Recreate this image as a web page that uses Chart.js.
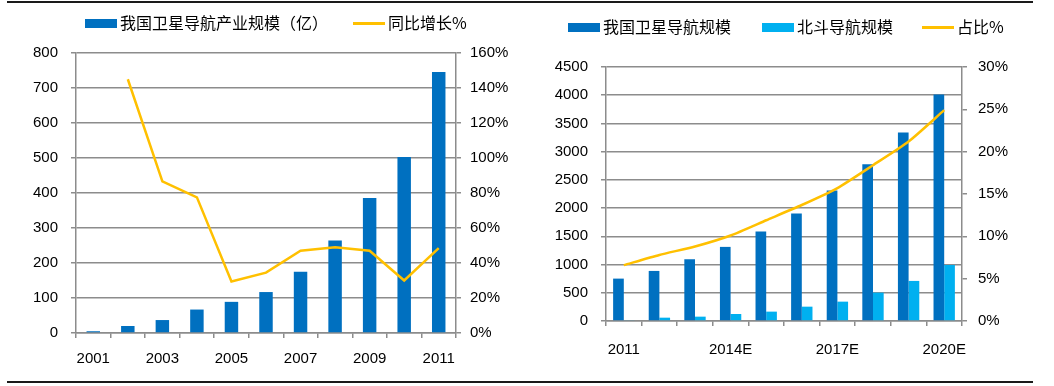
<!DOCTYPE html>
<html>
<head>
<meta charset="utf-8">
<script src="https://cdn.jsdelivr.net/npm/chart.js@4"></script>
<style>
  body { margin: 0; background: #fff; }
  #wrap { position: relative; width: 1054px; height: 386px; overflow: hidden; }
  .rule { position: absolute; left: 7px; width: 1026px; height: 2px; background: #1a1a1a; }
  .box { position: absolute; width: 520px; height: 386px; }
  .leg { position: absolute; font-family: "Noto Sans CJK SC", sans-serif; font-size: 16px; color: #000; line-height: 20px; white-space: nowrap; }
  .sw { position: absolute; }
</style>
</head>
<body>
<div id="wrap">
  <div class="rule" style="top:1px"></div>
  <div class="rule" style="top:381px"></div>
  <div class="box" style="left:0;top:0;width:520px"><canvas id="c1" width="520" height="386"></canvas></div>
  <div class="box" style="left:520px;top:0;width:534px"><canvas id="c2" width="534" height="386"></canvas></div>
</div>
<script>
// left chart: 2001-2011
const years1 = ["2001", "2002", "2003", "2004", "2005", "2006", "2007", "2008", "2009", "2010", "2011"];
const scale1 = [5, 20, 37, 67, 89, 117, 175, 264, 386, 503, 746];
const growth1 = [null, 145, 86.6, 77.5, 29.4, 34.5, 47, 49, 47, 30, 48.5];
const name1a = "我国卫星导航产业规模（亿）";
const name1b = "同比增长%";

// right chart: 2011-2020E
const years2 = ["2011", "2012E", "2013E", "2014E", "2015E", "2016E", "2017E", "2018E", "2019E", "2020E"];
const gnss2 = [751, 887, 1094, 1313, 1585, 1904, 2312, 2779, 3341, 4015];
const beidou2 = [15, 59, 77, 124, 166, 254, 343, 503, 710, 993];
const share2 = [6.6, 7.8, 8.8, 10.1, 11.9, 13.7, 15.7, 18.4, 21.2, 24.9];
const name2a = "我国卫星导航规模";
const name2b = "北斗导航规模";
const name2c = "占比%";

const DARK = "#0070C0", LIGHT = "#00B0F0", GOLD = "#FFC000", GRID = "#8c8c8c";
const tickFont = { family: "'Liberation Sans', Arial, sans-serif", size: 15 };

// html legend
function legend(parent, items) {
  items.forEach(it => {
    const sw = document.createElement("div");
    sw.className = "sw";
    sw.style.left = it.x + "px";
    sw.style.width = "32px";
    if (it.line) {
      sw.style.top = (it.y - 1.5) + "px";
      sw.style.height = "3px";
    } else {
      sw.style.top = (it.y - 4.5) + "px";
      sw.style.height = "9px";
    }
    sw.style.background = it.color;
    parent.appendChild(sw);
    const t = document.createElement("div");
    t.className = "leg";
    t.style.left = (it.x + 35) + "px";
    t.style.top = (it.y - 11) + "px";
    t.textContent = it.text;
    parent.appendChild(t);
  });
}
const wrap = document.getElementById("wrap");
legend(wrap, [
  { x: 85, y: 23, color: DARK, text: name1a },
  { x: 353, y: 23, color: GOLD, text: name1b, line: true }
]);
legend(wrap, [
  { x: 568, y: 27, color: DARK, text: name2a },
  { x: 762, y: 27, color: LIGHT, text: name2b },
  { x: 922, y: 27, color: GOLD, text: name2c, line: true }
]);

function fixW(w) { return s => { s.width = w; }; }
function fixH(h) { return s => { s.height = h; }; }

function yAxis(pos, min, max, step, w, pad, fmt, grid) {
  return {
    position: pos,
    min: min, max: max,
    afterFit: fixW(w),
    ticks: { stepSize: step, padding: pad, color: "#000", font: tickFont, callback: fmt },
    border: { display: true, color: GRID, width: 1.5 },
    grid: { display: true, drawOnChartArea: grid, drawTicks: true, tickLength: 5, color: GRID, lineWidth: 1.5 }
  };
}

function xAxis(h, pad, every) {
  return {
    afterFit: fixH(h),
    ticks: {
      autoSkip: false, maxRotation: 0, padding: pad, color: "#000", font: tickFont,
      callback: function (v, i) { return i % every === 0 ? this.getLabelForValue(v) : ""; }
    },
    border: { display: true, color: GRID, width: 1.5 },
    grid: { offset: true, drawOnChartArea: false, drawTicks: true, tickLength: 5, color: GRID, lineWidth: 1.5 }
  };
}

new Chart(document.getElementById("c1"), {
  data: {
    labels: years1,
    datasets: [
      { type: "line", label: name1b, data: growth1, yAxisID: "y1", borderColor: GOLD, borderWidth: 2.5,
        pointRadius: 0, tension: 0, order: 0 },
      { type: "bar", label: name1a, data: scale1, yAxisID: "y", backgroundColor: DARK,
        barPercentage: 0.39, categoryPercentage: 1, order: 1 }
    ]
  },
  options: {
    responsive: false, animation: false,
    layout: { padding: { top: 53, bottom: 0, left: 0, right: 0 } },
    plugins: { legend: { display: false }, tooltip: { enabled: false } },
    scales: {
      x: xAxis(53, 12, 2),
      y: yAxis("left", 0, 800, 100, 76, 13, v => v, true),
      y1: yAxis("right", 0, 160, 20, 64, 9, v => v + "%", false)
    }
  }
});

new Chart(document.getElementById("c2"), {
  data: {
    labels: years2,
    datasets: [
      { type: "line", label: name2c, data: share2, yAxisID: "y1", borderColor: GOLD, borderWidth: 2.5,
        pointRadius: 0, tension: 0.2, order: 0 },
      { type: "bar", label: name2a, data: gnss2, yAxisID: "y", backgroundColor: DARK,
        barPercentage: 1, categoryPercentage: 0.6, order: 1 },
      { type: "bar", label: name2b, data: beidou2, yAxisID: "y", backgroundColor: LIGHT,
        barPercentage: 1, categoryPercentage: 0.6, order: 2 }
    ]
  },
  options: {
    responsive: false, animation: false,
    layout: { padding: { top: 67, bottom: 0, left: 0, right: 0 } },
    plugins: { legend: { display: false }, tooltip: { enabled: false } },
    scales: {
      x: xAxis(65, 15, 3),
      y: yAxis("left", 0, 4500, 500, 86, 13, v => v, true),
      y1: yAxis("right", 0, 30, 5, 92, 11, v => v + "%", false)
    }
  }
});
</script>
</body>
</html>
